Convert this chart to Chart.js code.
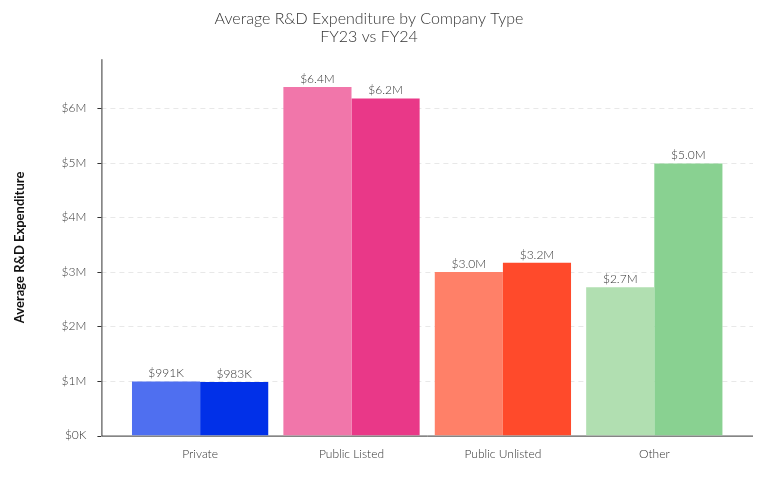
<!DOCTYPE html>
<html>
<head>
<meta charset="utf-8">
<script src="https://cdn.jsdelivr.net/npm/chart.js@4/dist/chart.umd.min.js"></script>
<style>
  html, body { margin: 0; padding: 0; background: #fff; }
  #wrap { width: 767px; height: 479px; }
</style>
</head>
<body>
<div id="wrap"><canvas id="rdChart"></canvas></div>
<script>
// Chart data
const categories = ['Private', 'Public Listed', 'Public Unlisted', 'Other'];
const fy23Values = [991000, 6390000, 3000000, 2720000];
const fy24Values = [983000, 6180000, 3170000, 4990000];
const fy23Labels = ['$991K', '$6.4M', '$3.0M', '$2.7M'];
const fy24Labels = ['$983K', '$6.2M', '$3.2M', '$5.0M'];
const yTicks = [0, 1e6, 2e6, 3e6, 4e6, 5e6, 6e6];
const fy23Colors = ['#4f6ff0', '#f176aa', '#ff8068', '#b1dfb1'];
const fy24Colors = ['#0130e8', '#e93888', '#ff4a2b', '#89d191'];

const AXIS_GAP = 23;

// axes and grid drawn wider than the bar area
const frame = {
    id: 'frame',
    beforeDatasetsDraw(chart) {
        const ctx = chart.ctx;
        const a = chart.chartArea;
        const y = chart.scales.y;
        const left = a.left - AXIS_GAP, right = a.right + AXIS_GAP;
        ctx.save();
        ctx.lineWidth = 1;
        ctx.strokeStyle = '#e8e8e8';
        ctx.setLineDash([5, 4]);
        yTicks.slice(1).forEach(v => {
            const py = Math.round(y.getPixelForValue(v)) + 0.5;
            ctx.beginPath(); ctx.moveTo(left, py); ctx.lineTo(right, py); ctx.stroke();
        });
        ctx.setLineDash([]);
        ctx.strokeStyle = '#333';
        ctx.beginPath();
        ctx.moveTo(left + 0.5, a.top);
        ctx.lineTo(left + 0.5, a.bottom + 0.5);
        ctx.lineTo(right, a.bottom + 0.5);
        ctx.stroke();
        yTicks.forEach(v => {
            const py = Math.round(y.getPixelForValue(v)) + 0.5;
            ctx.beginPath(); ctx.moveTo(left - 4, py); ctx.lineTo(left, py); ctx.stroke();
        });
        ctx.restore();
    },
    afterDatasetsDraw(chart) {
        const ctx = chart.ctx;
        ctx.save();
        ctx.font = '300 12px Lato';
        ctx.fillStyle = '#333';
        ctx.textAlign = 'center';
        ctx.textBaseline = 'bottom';
        chart.data.datasets.forEach((ds, i) => {
            chart.getDatasetMeta(i).data.forEach((bar, j) => {
                ctx.fillText(ds.valueLabels[j], bar.x, bar.y - 2);
            });
        });
        ctx.restore();
    }
};

new Chart(document.getElementById('rdChart'), {
    type: 'bar',
    data: {
        labels: categories,
        datasets: [
            { label: 'FY23', data: fy23Values, backgroundColor: fy23Colors, valueLabels: fy23Labels },
            { label: 'FY24', data: fy24Values, backgroundColor: fy24Colors, valueLabels: fy24Labels }
        ]
    },
    options: {
        responsive: true,
        maintainAspectRatio: false,
        animation: false,
        categoryPercentage: 0.9,
        barPercentage: 1,
        layout: { padding: { left: 8, right: 37, top: 4, bottom: 15 } },
        plugins: {
            legend: { display: false },
            tooltip: { enabled: false },
            title: {
                display: true,
                text: ['Average R&D Expenditure by Company Type', 'FY23 vs FY24'],
                color: '#333',
                font: { family: 'Lato', size: 16, weight: '300', lineHeight: 1.1 },
                padding: { top: 6, bottom: 14 }
            }
        },
        scales: {
            x: {
                grid: { display: false },
                border: { display: false },
                ticks: { color: '#333', font: { family: 'Lato', size: 12, weight: '300' } }
            },
            y: {
                min: 0,
                max: 6900000,
                afterBuildTicks(axis) {
                    axis.ticks = yTicks.map(v => ({ value: v }));
                },
                grid: { display: false },
                border: { display: false },
                ticks: {
                    color: '#333',
                    padding: 30,
                    font: { family: 'Lato', size: 12, weight: '300' },
                    callback: v => v === 0 ? '$0K' : '$' + (v / 1e6) + 'M'
                },
                title: {
                    display: true,
                    text: 'Average R&D Expenditure',
                    color: '#111',
                    font: { family: 'Lato', size: 13, weight: 'bold' }
                }
            }
        }
    },
    plugins: [frame]
});
</script>
</body>
</html>
